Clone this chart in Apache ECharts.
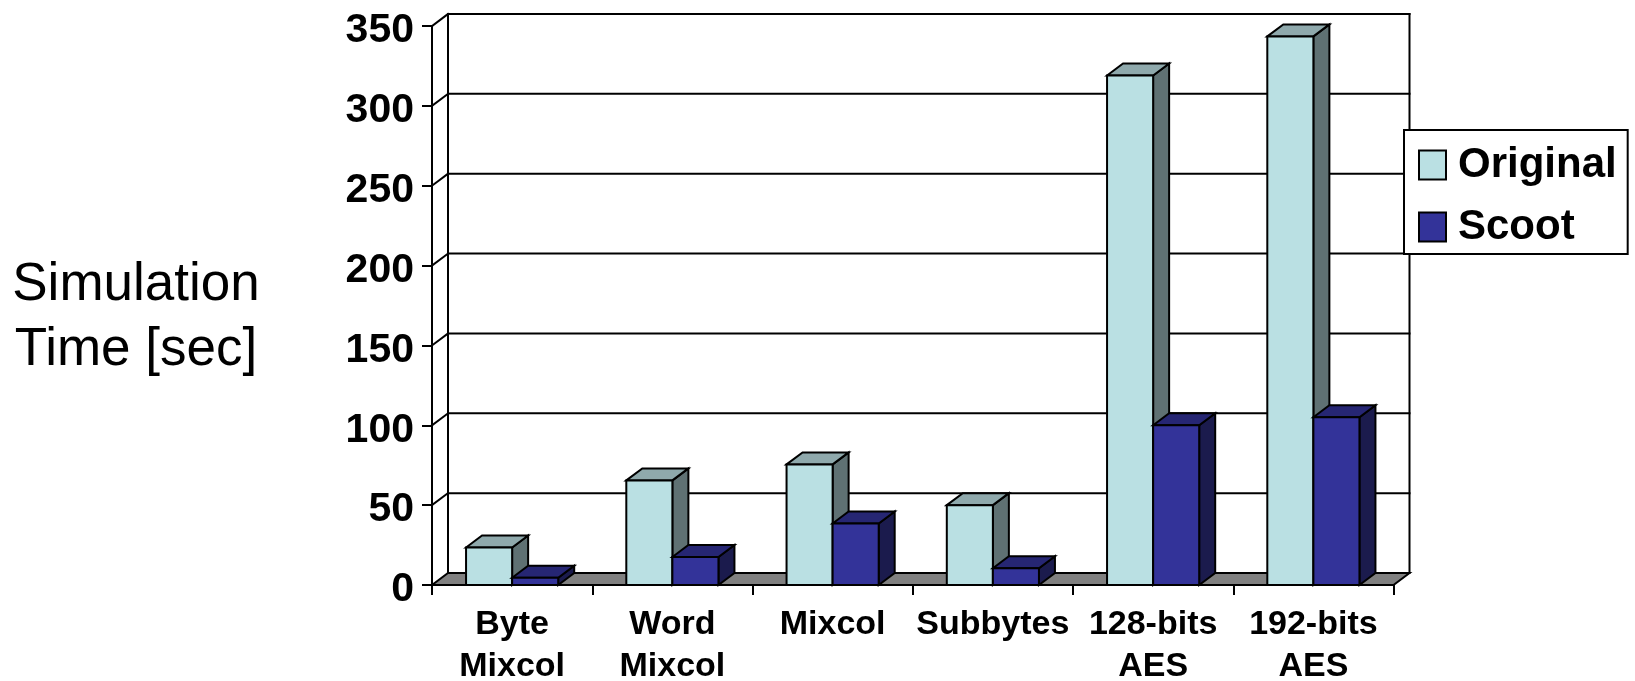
<!DOCTYPE html>
<html>
<head>
<meta charset="utf-8">
<style>html,body{margin:0;padding:0;background:#fff}#chart{width:1635px;height:681px}</style>
<script src="https://cdn.jsdelivr.net/npm/echarts@6/dist/echarts.min.js"></script>
</head>
<body>
<div id="chart"></div>
<script>
const categories = ['Byte\nMixcol', 'Word\nMixcol', 'Mixcol', 'Subbytes', '128-bits\nAES', '192-bits\nAES'];
const originalTimes = [23.5, 65.5, 75.5, 50, 319, 343.5];
const scootTimes = [4.5, 17.5, 38.5, 10.5, 100, 105];
const yTicks = [0, 50, 100, 150, 200, 250, 300, 350];

const FONT = '"Liberation Sans", Arial, sans-serif';
const INK = '#000';
const LINE = 2;
// Oblique offset of the back wall and of each bar's depth, in pixels.
const WALL_DX = 16, WALL_DY = -12;
const BAR_DX = 16, BAR_DY = -12;
const BAR_SHARE = 0.2875;

function poly(points, fill) {
  return {
    type: 'polygon',
    shape: { points },
    style: { fill, stroke: INK, lineWidth: LINE, lineJoin: 'miter' }
  };
}

// Builds a renderItem for one bar series: front, top and side faces.
function barRenderer(slot, front, top, side) {
  return function (params, api) {
    const base = api.coord([api.value(0), 0]);
    const peak = api.coord([api.value(0), api.value(1)]);
    const w = api.size([1, 0])[0] * BAR_SHARE;
    const l = base[0] + slot * w, r = l + w;
    const b = base[1], t = peak[1];
    return {
      type: 'group',
      children: [
        poly([[r, t], [r + BAR_DX, t + BAR_DY], [r + BAR_DX, b + BAR_DY], [r, b]], side),
        poly([[l, t], [l + BAR_DX, t + BAR_DY], [r + BAR_DX, t + BAR_DY], [r, t]], top),
        poly([[l, t], [r, t], [r, b], [l, b]], front)
      ]
    };
  };
}

// The floor, back wall edges and gridlines, drawn once per y tick.
function wallRenderer(params, api) {
  const v = api.value(0);
  const sys = params.coordSys;
  const y = api.coord([0, v])[1];
  const x0 = sys.x, x1 = sys.x + sys.width;
  const line = (xa, ya, xb, yb) => ({
    type: 'line',
    shape: { x1: xa, y1: ya, x2: xb, y2: yb },
    style: { stroke: INK, lineWidth: LINE, lineCap: 'square' }
  });
  const lx = x0 + WALL_DX, rx = x1 + WALL_DX, by = y + WALL_DY;
  const children = [];
  if (v === 0) {
    children.push(poly([[x0, y], [lx, by], [rx, by], [x1, y]], '#808080'));
    children.push(line(lx, sys.y + WALL_DY, lx, by));
    children.push(line(rx, sys.y + WALL_DY, rx, by));
  } else {
    children.push(line(lx, by, rx, by));
    children.push(line(x0, y, lx, by));
  }
  return { type: 'group', children };
}

const chart = echarts.init(document.getElementById('chart'), null, { renderer: 'canvas' });
chart.setOption({
  animation: false,
  backgroundColor: '#fff',
  title: {
    text: 'Simulation\nTime [sec]',
    left: 131,
    top: 248,
    textAlign: 'center',
    textStyle: { fontFamily: FONT, fontWeight: 'normal', fontSize: 53, lineHeight: 65, color: INK }
  },
  legend: {
    data: ['Original', 'Scoot'],
    orient: 'vertical',
    left: 1404,
    top: 130,
    padding: [14, 11, 6, 14],
    itemWidth: 27,
    itemHeight: 29,
    itemGap: 20,
    borderColor: INK,
    borderWidth: LINE,
    backgroundColor: '#fff',
    selectedMode: false,
    icon: 'rect',
    textStyle: { fontFamily: FONT, fontWeight: 'bold', fontSize: 42, color: INK, padding: [0, 0, 0, 7] }
  },
  grid: { left: 432, top: 26, width: 961.5, height: 559, outerBoundsMode: 'none' },
  xAxis: {
    type: 'category',
    data: categories,
    z: 3,
    axisLine: { lineStyle: { color: INK, width: LINE } },
    axisTick: { show: true, length: 10, interval: 0, lineStyle: { color: INK, width: LINE } },
    axisLabel: {
      interval: 0,
      margin: 19,
      fontFamily: FONT,
      fontWeight: 'bold',
      fontSize: 34,
      lineHeight: 42,
      color: INK
    },
    splitLine: { show: false }
  },
  yAxis: {
    type: 'value',
    min: 0,
    max: 350,
    interval: 50,
    z: 3,
    axisLine: { show: true, lineStyle: { color: INK, width: LINE } },
    axisTick: { show: true, length: 10, lineStyle: { color: INK, width: LINE } },
    axisLabel: {
      margin: 18,
      formatter: '{n|{value}}',
      rich: {
        // The extra top padding sits each number slightly below its tick.
        n: { padding: [10, 0, 0, 0], fontFamily: FONT, fontWeight: 'bold', fontSize: 41, color: INK }
      }
    },
    splitLine: { show: false }
  },
  series: [
    {
      name: 'walls',
      type: 'custom',
      data: yTicks.map(v => [v]),
      encode: { y: 0 },
      renderItem: wallRenderer,
      silent: true
    },
    {
      name: 'Original',
      type: 'custom',
      data: originalTimes.map((v, i) => [i, v]),
      encode: { x: 0, y: 1 },
      itemStyle: { color: '#BAE0E3', borderColor: INK, borderWidth: LINE },
      renderItem: barRenderer(-1, '#BAE0E3', '#8FA9AC', '#5F7173')
    },
    {
      name: 'Scoot',
      type: 'custom',
      data: scootTimes.map((v, i) => [i, v]),
      encode: { x: 0, y: 1 },
      itemStyle: { color: '#333399', borderColor: INK, borderWidth: LINE },
      renderItem: barRenderer(0, '#333399', '#262673', '#1B1B4D')
    }
  ]
});
</script>
</body>
</html>
